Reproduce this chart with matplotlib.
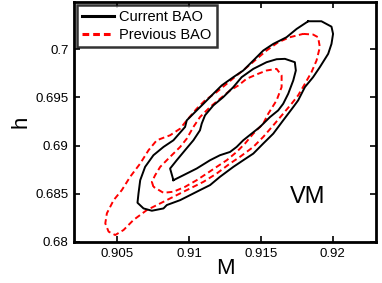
import numpy as np
import matplotlib.pyplot as plt

plt.rcParams['font.family'] = ['Liberation Sans', 'DejaVu Sans']

# contour outlines (M, h)
cur_outer_M = [0.91829, 0.91921, 0.91991, 0.92002, 0.91991, 0.91968, 0.91910, 0.91863, 0.91806,
               0.91759, 0.91725, 0.91655, 0.91586, 0.91516, 0.91447, 0.91377, 0.91308, 0.91215,
               0.91146, 0.91076, 0.91007, 0.90938, 0.90845, 0.90822, 0.90741, 0.90683, 0.90641,
               0.90648, 0.90660, 0.90694, 0.90752, 0.90822, 0.90891, 0.90972, 0.90984, 0.91053,
               0.91100, 0.91169, 0.91227, 0.91308, 0.91377, 0.91447, 0.91516, 0.91586, 0.91678,
               0.91748]
cur_outer_h = [0.70290, 0.70290, 0.70234, 0.70159, 0.70055, 0.69952, 0.69814, 0.69710, 0.69607,
               0.69469, 0.69400, 0.69262, 0.69124, 0.69021, 0.68917, 0.68848, 0.68779, 0.68676,
               0.68590, 0.68538, 0.68486, 0.68434, 0.68383, 0.68348, 0.68324, 0.68348, 0.68407,
               0.68503, 0.68641, 0.68779, 0.68900, 0.68986, 0.69055, 0.69193, 0.69262, 0.69365,
               0.69434, 0.69538, 0.69624, 0.69710, 0.69779, 0.69883, 0.69986, 0.70055, 0.70124,
               0.70210]

cur_inner_M = [0.90891, 0.90868, 0.90914, 0.90972, 0.91030, 0.91076, 0.91088, 0.91111, 0.91169,
               0.91238, 0.91308, 0.91366, 0.91447, 0.91539, 0.91609, 0.91667, 0.91736, 0.91743,
               0.91725, 0.91690, 0.91655, 0.91620, 0.91563, 0.91493, 0.91435, 0.91377, 0.91331,
               0.91285, 0.91215, 0.91146, 0.91053, 0.90961]
cur_inner_h = [0.68641, 0.68762, 0.68848, 0.68952, 0.69055, 0.69159, 0.69228, 0.69314, 0.69417,
               0.69503, 0.69607, 0.69710, 0.69796, 0.69865, 0.69896, 0.69900, 0.69865, 0.69779,
               0.69676, 0.69538, 0.69434, 0.69365, 0.69296, 0.69193, 0.69124, 0.69055, 0.68986,
               0.68934, 0.68900, 0.68848, 0.68762, 0.68693]

prev_outer_M = [0.91794, 0.91863, 0.91898, 0.91910, 0.91887, 0.91852, 0.91806, 0.91759, 0.91713,
                0.91655, 0.91586, 0.91516, 0.91447, 0.91354, 0.91285, 0.91192, 0.91100, 0.90984,
                0.90891, 0.90799, 0.90706, 0.90613, 0.90544, 0.90486, 0.90440, 0.90417, 0.90428,
                0.90475, 0.90532, 0.90590, 0.90660, 0.90718, 0.90775, 0.90868, 0.90938, 0.90984,
                0.91053, 0.91111, 0.91192, 0.91262, 0.91331, 0.91389, 0.91458, 0.91539, 0.91620,
                0.91701]
prev_outer_h = [0.70159, 0.70152, 0.70124, 0.70021, 0.69883, 0.69762, 0.69641, 0.69521, 0.69434,
                0.69331, 0.69210, 0.69090, 0.68986, 0.68883, 0.68814, 0.68710, 0.68624, 0.68538,
                0.68469, 0.68400, 0.68331, 0.68228, 0.68124, 0.68072, 0.68107, 0.68193, 0.68297,
                0.68434, 0.68538, 0.68676, 0.68814, 0.68952, 0.69055, 0.69107, 0.69176, 0.69262,
                0.69383, 0.69469, 0.69555, 0.69641, 0.69727, 0.69796, 0.69883, 0.69986, 0.70072,
                0.70124]

prev_inner_M = [0.90752, 0.90741, 0.90764, 0.90799, 0.90868, 0.90938, 0.90984, 0.91030, 0.91076,
                0.91146, 0.91215, 0.91285, 0.91343, 0.91400, 0.91481, 0.91539, 0.91609, 0.91644,
                0.91644, 0.91609, 0.91551, 0.91516, 0.91447, 0.91389, 0.91331, 0.91262, 0.91192,
                0.91123, 0.91053, 0.90972, 0.90891, 0.90822]
prev_inner_h = [0.68572, 0.68624, 0.68693, 0.68779, 0.68883, 0.68986, 0.69072, 0.69193, 0.69296,
                0.69400, 0.69486, 0.69572, 0.69624, 0.69693, 0.69745, 0.69779, 0.69796, 0.69727,
                0.69607, 0.69469, 0.69331, 0.69228, 0.69124, 0.69021, 0.68934, 0.68848, 0.68779,
                0.68710, 0.68641, 0.68572, 0.68521, 0.68510]

xticks = [0.905, 0.91, 0.915, 0.92]
xtick_labels = ['0.905', '0.91', '0.915', '0.92']
yticks = [0.68, 0.685, 0.69, 0.695, 0.7]
ytick_labels = ['0.68', '0.685', '0.69', '0.695', '0.7']


def closed(a):
    return list(a) + [a[0]]


fig = plt.figure(figsize=(3.82, 2.83), dpi=100)
ax = fig.add_axes([0.194, 0.145, 0.790, 0.848])

dash = (0, (3, 1.8))
ax.plot(closed(prev_outer_M), closed(prev_outer_h), color='red', ls=dash, lw=1.4)
ax.plot(closed(prev_inner_M), closed(prev_inner_h), color='red', ls=dash, lw=1.4)
ax.plot(closed(cur_outer_M), closed(cur_outer_h), color='black', lw=1.4, label='Current BAO')
ax.plot(closed(cur_inner_M), closed(cur_inner_h), color='black', lw=1.4)
# legend proxy for dashed red
ax.plot([], [], color='red', ls=(0, (2.2, 1.3)), lw=2.2, label='Previous BAO')

ax.set_xlim(0.902, 0.923)
ax.set_ylim(0.68, 0.7049)
ax.set_xticks(xticks)
ax.set_xticklabels(xtick_labels)
ax.set_yticks(yticks)
ax.set_yticklabels(ytick_labels)
ax.tick_params(direction='in', top=True, right=True, length=4, width=1.2, labelsize=9.5, pad=4)
for s in ax.spines.values():
    s.set_linewidth(2)

ax.set_xlabel('M', fontsize=16, labelpad=-1)
ax.set_ylabel('h', fontsize=16, labelpad=3)

ax.text(0.91826, 0.68466, 'VM', fontsize=17, ha='center', va='center')

leg = ax.legend(loc='upper left', fontsize=10.5, frameon=True, fancybox=False,
                handlelength=2.2, borderaxespad=0.2, borderpad=0.35, labelspacing=0.25,
                handletextpad=0.35)
leg.get_frame().set_edgecolor('black')
leg.get_frame().set_linewidth(1.8)
leg.get_lines()[0].set_linewidth(2.2)

fig.savefig('out.png', dpi=100)
